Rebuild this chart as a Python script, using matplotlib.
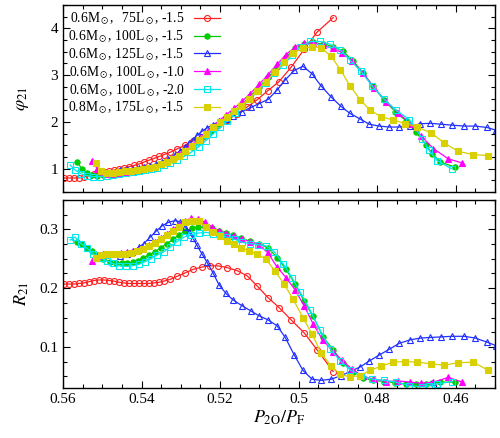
import matplotlib
matplotlib.use("Agg")
import matplotlib.pyplot as plt
from matplotlib.ticker import MultipleLocator

plt.rcParams['font.family'] = ['Liberation Serif', 'DejaVu Serif']
plt.rcParams['mathtext.fontset'] = 'stix'
plt.rcParams['font.size'] = 11

labels = [r"0.6M$_\odot$, $\enspace$75L$_\odot$, -1.5",
          r"0.6M$_\odot$, 100L$_\odot$, -1.5",
          r"0.6M$_\odot$, 125L$_\odot$, -1.5",
          r"0.6M$_\odot$, 100L$_\odot$, -1.0",
          r"0.6M$_\odot$, 100L$_\odot$, -2.0",
          r"0.8M$_\odot$, 175L$_\odot$, -1.5"]

# 0.6 Msun, 75 Lsun, -1.5
x_red = [0.5597, 0.5585, 0.5572, 0.5559, 0.5546, 0.5534, 0.5521, 0.5508, 0.5496, 0.5483,
         0.5470, 0.5457, 0.5445, 0.5432, 0.5419, 0.5406, 0.5394, 0.5381, 0.5368, 0.5355,
         0.5343, 0.5327, 0.5310, 0.5289, 0.5269, 0.5246, 0.5225, 0.5205, 0.5182, 0.5157,
         0.5131, 0.5106, 0.5078, 0.5050, 0.5019, 0.4986, 0.4953, 0.4912]
phi_red = [0.80, 0.80, 0.80, 0.80, 0.82, 0.85, 0.88, 0.91, 0.93, 0.95,
           0.97, 0.99, 1.01, 1.04, 1.07, 1.10, 1.14, 1.18, 1.22, 1.26,
           1.30, 1.35, 1.42, 1.50, 1.59, 1.68, 1.80, 1.93, 2.04, 2.17,
           2.32, 2.47, 2.67, 2.86, 3.17, 3.55, 3.92, 4.23]
R_red = [0.207, 0.207, 0.207, 0.208, 0.209, 0.211, 0.213, 0.214, 0.214, 0.213,
         0.212, 0.210, 0.209, 0.208, 0.208, 0.208, 0.208, 0.208, 0.209, 0.210,
         0.212, 0.215, 0.220, 0.226, 0.232, 0.236, 0.238, 0.238, 0.235, 0.230,
         0.221, 0.204, 0.184, 0.167, 0.146, 0.124, 0.095, 0.058]

# 0.6 Msun, 100 Lsun, -1.5
x_green = [0.5564, 0.5552, 0.5539, 0.5526, 0.5513, 0.5498, 0.5480, 0.5465, 0.5450, 0.5437,
           0.5422, 0.5409, 0.5396, 0.5381, 0.5366, 0.5350, 0.5335, 0.5320, 0.5304, 0.5289,
           0.5271, 0.5256, 0.5238, 0.5220, 0.5203, 0.5185, 0.5167, 0.5146, 0.5124, 0.5101,
           0.5078, 0.5055, 0.5032, 0.5009, 0.4986, 0.4963, 0.4938, 0.4912, 0.4887, 0.4861,
           0.4836, 0.4810, 0.4782, 0.4754, 0.4726, 0.4701, 0.4675, 0.4660, 0.4639, 0.4601]
phi_green = [1.15, 0.99, 0.90, 0.86, 0.85, 0.86, 0.87, 0.89, 0.91, 0.92,
             0.94, 0.96, 0.98, 1.01, 1.04, 1.08, 1.13, 1.19, 1.26, 1.35,
             1.46, 1.56, 1.69, 1.82, 1.95, 2.08, 2.21, 2.37, 2.54, 2.74,
             2.95, 3.17, 3.39, 3.57, 3.67, 3.70, 3.66, 3.61, 3.51, 3.30,
             3.05, 2.76, 2.46, 2.22, 2.02, 1.78, 1.50, 1.32, 1.14, 1.03]
R_green = [0.278, 0.276, 0.269, 0.263, 0.256, 0.249, 0.245, 0.242, 0.242, 0.242,
           0.244, 0.247, 0.252, 0.256, 0.262, 0.269, 0.276, 0.283, 0.291, 0.297,
           0.302, 0.304, 0.304, 0.302, 0.298, 0.294, 0.290, 0.285, 0.280, 0.275,
           0.269, 0.252, 0.232, 0.207, 0.178, 0.152, 0.117, 0.095, 0.073, 0.058,
           0.047, 0.043, 0.041, 0.039, 0.037, 0.036, 0.037, 0.038, 0.040, 0.040]

# 0.6 Msun, 125 Lsun, -1.5
x_blue = [0.5455, 0.5437, 0.5422, 0.5406, 0.5394, 0.5378, 0.5363, 0.5348, 0.5332, 0.5315,
          0.5302, 0.5289, 0.5279, 0.5269, 0.5259, 0.5246, 0.5233, 0.5218, 0.5203, 0.5185,
          0.5167, 0.5144, 0.5121, 0.5101, 0.5078, 0.5055, 0.5034, 0.5011, 0.4989, 0.4966,
          0.4943, 0.4917, 0.4892, 0.4869, 0.4843, 0.4820, 0.4795, 0.4769, 0.4744, 0.4716,
          0.4690, 0.4665, 0.4637, 0.4609, 0.4578, 0.4550, 0.4520, 0.4497]
phi_blue = [0.98, 0.99, 1.00, 1.01, 1.03, 1.06, 1.10, 1.15, 1.21, 1.30,
            1.38, 1.46, 1.54, 1.62, 1.71, 1.80, 1.87, 1.94, 2.01, 2.07,
            2.13, 2.22, 2.31, 2.39, 2.48, 2.68, 2.90, 3.10, 3.19, 3.03,
            2.77, 2.53, 2.33, 2.18, 2.06, 1.95, 1.91, 1.89, 1.89, 1.91,
            1.96, 1.97, 1.95, 1.93, 1.91, 1.91, 1.88, 1.82]
R_blue = [0.255, 0.258, 0.263, 0.270, 0.276, 0.287, 0.297, 0.306, 0.312, 0.315,
          0.313, 0.305, 0.296, 0.285, 0.273, 0.258, 0.244, 0.226, 0.206, 0.191,
          0.180, 0.170, 0.161, 0.153, 0.146, 0.136, 0.116, 0.086, 0.060, 0.045,
          0.043, 0.045, 0.051, 0.058, 0.066, 0.076, 0.086, 0.096, 0.106, 0.112,
          0.115, 0.116, 0.117, 0.118, 0.118, 0.115, 0.108, 0.102]

# 0.6 Msun, 100 Lsun, -1.0
x_mag = [0.5526, 0.5513, 0.5498, 0.5483, 0.5468, 0.5452, 0.5437, 0.5424, 0.5409, 0.5396,
         0.5381, 0.5366, 0.5350, 0.5335, 0.5320, 0.5304, 0.5289, 0.5274, 0.5256, 0.5238,
         0.5220, 0.5203, 0.5185, 0.5164, 0.5144, 0.5124, 0.5101, 0.5078, 0.5055, 0.5032,
         0.5009, 0.4986, 0.4963, 0.4938, 0.4912, 0.4889, 0.4864, 0.4836, 0.4808, 0.4777,
         0.4746, 0.4716, 0.4688, 0.4657, 0.4619, 0.4583]
phi_mag = [1.17, 1.00, 0.90, 0.88, 0.89, 0.91, 0.93, 0.95, 0.97, 0.99,
           1.02, 1.06, 1.10, 1.16, 1.23, 1.31, 1.40, 1.50, 1.62, 1.76,
           1.89, 2.02, 2.15, 2.29, 2.44, 2.60, 2.80, 3.01, 3.23, 3.44,
           3.60, 3.68, 3.69, 3.64, 3.57, 3.48, 3.30, 3.04, 2.73, 2.43,
           2.20, 1.96, 1.70, 1.43, 1.21, 1.12]
R_mag = [0.246, 0.254, 0.258, 0.259, 0.259, 0.260, 0.261, 0.262, 0.265, 0.268,
         0.273, 0.279, 0.286, 0.293, 0.300, 0.308, 0.315, 0.319, 0.318, 0.312,
         0.304, 0.298, 0.293, 0.289, 0.284, 0.279, 0.274, 0.260, 0.236, 0.218,
         0.197, 0.170, 0.139, 0.111, 0.092, 0.077, 0.062, 0.050, 0.045, 0.041,
         0.042, 0.040, 0.038, 0.040, 0.048, 0.040]

# 0.6 Msun, 100 Lsun, -2.0
x_cyan = [0.5582, 0.5569, 0.5554, 0.5539, 0.5524, 0.5506, 0.5488, 0.5473, 0.5457, 0.5439,
          0.5422, 0.5406, 0.5391, 0.5376, 0.5361, 0.5343, 0.5327, 0.5310, 0.5292, 0.5274,
          0.5254, 0.5236, 0.5218, 0.5200, 0.5182, 0.5162, 0.5144, 0.5124, 0.5103, 0.5083,
          0.5062, 0.5039, 0.5017, 0.4996, 0.4971, 0.4945, 0.4920, 0.4894, 0.4869, 0.4841,
          0.4813, 0.4782, 0.4752, 0.4718, 0.4685, 0.4668, 0.4647, 0.4609]
phi_cyan = [1.08, 0.97, 0.89, 0.85, 0.83, 0.83, 0.84, 0.86, 0.88, 0.90,
            0.92, 0.94, 0.97, 0.99, 1.02, 1.07, 1.12, 1.18, 1.26, 1.35,
            1.47, 1.60, 1.74, 1.88, 2.02, 2.18, 2.33, 2.49, 2.66, 2.84,
            3.04, 3.22, 3.43, 3.60, 3.72, 3.72, 3.66, 3.54, 3.32, 3.08,
            2.77, 2.48, 2.25, 2.05, 1.64, 1.39, 1.17, 0.99]
R_cyan = [0.282, 0.287, 0.276, 0.268, 0.259, 0.252, 0.246, 0.242, 0.238, 0.237,
          0.238, 0.241, 0.245, 0.250, 0.256, 0.262, 0.270, 0.279, 0.287, 0.291,
          0.294, 0.295, 0.293, 0.290, 0.287, 0.283, 0.278, 0.276, 0.274, 0.272,
          0.262, 0.241, 0.218, 0.193, 0.163, 0.128, 0.097, 0.076, 0.061, 0.051,
          0.045, 0.043, 0.040, 0.034, 0.032, 0.034, 0.037, 0.041]

# 0.8 Msun, 175 Lsun, -1.5
x_yel = [0.5516, 0.5503, 0.5488, 0.5473, 0.5457, 0.5442, 0.5427, 0.5411, 0.5396, 0.5381,
         0.5366, 0.5350, 0.5335, 0.5320, 0.5304, 0.5289, 0.5271, 0.5254, 0.5236, 0.5218,
         0.5200, 0.5182, 0.5164, 0.5146, 0.5126, 0.5106, 0.5083, 0.5060, 0.5037, 0.5014,
         0.4989, 0.4966, 0.4943, 0.4917, 0.4894, 0.4869, 0.4843, 0.4818, 0.4790, 0.4759,
         0.4729, 0.4698, 0.4662, 0.4629, 0.4594, 0.4555, 0.4517]
phi_yel = [1.12, 0.94, 0.90, 0.91, 0.93, 0.94, 0.96, 0.97, 0.99, 1.015,
           1.04, 1.09, 1.14, 1.20, 1.28, 1.38, 1.49, 1.62, 1.75, 1.88,
           2.00, 2.11, 2.23, 2.35, 2.50, 2.67, 2.86, 3.07, 3.28, 3.48,
           3.57, 3.61, 3.585, 3.40, 3.12, 2.77, 2.47, 2.25, 2.11, 2.04,
           1.965, 1.89, 1.76, 1.55, 1.37, 1.30, 1.28]
R_yel = [0.252, 0.256, 0.259, 0.259, 0.259, 0.259, 0.260, 0.263, 0.267, 0.272,
         0.277, 0.284, 0.290, 0.297, 0.305, 0.312, 0.315, 0.314, 0.304, 0.296,
         0.288, 0.280, 0.275, 0.269, 0.263, 0.258, 0.249, 0.229, 0.207, 0.181,
         0.150, 0.122, 0.090, 0.067, 0.053, 0.049, 0.051, 0.060, 0.067, 0.074,
         0.075, 0.074, 0.071, 0.069, 0.073, 0.074, 0.060]

series = [
    (x_red, phi_red, R_red, dict(color='#ff2020', marker='o', mfc='none', ms=4.3)),
    (x_green, phi_green, R_green, dict(color='#00cc00', marker='o', mfc='#00cc00', ms=3.8)),
    (x_blue, phi_blue, R_blue, dict(color='#2030ff', marker='^', mfc='none', ms=4.3)),
    (x_mag, phi_mag, R_mag, dict(color='#ff00ff', marker='^', mfc='#ff00ff', ms=4.0)),
    (x_cyan, phi_cyan, R_cyan, dict(color='#00e8ee', marker='s', mfc='none', ms=4.6)),
    (x_yel, phi_yel, R_yel, dict(color='#d8d000', marker='s', mfc='#d8d000', ms=4.6)),
]

fig = plt.figure(figsize=(5.0, 4.38), dpi=100)
ax1 = fig.add_axes([0.126, 0.5616, 0.864, 0.427])
ax2 = fig.add_axes([0.126, 0.1142, 0.864, 0.429])

for (x, p, r, st), lab in zip(series, labels):
    ax1.plot(x, p, lw=0.9, mew=0.8, label=lab, **st)
    ax2.plot(x, r, lw=0.9, mew=0.8, **st)

for ax in (ax1, ax2):
    ax.set_xlim(0.56, 0.45)
    ax.xaxis.set_major_locator(MultipleLocator(0.02))
    ax.xaxis.set_minor_locator(MultipleLocator(0.005))
    ax.tick_params(which='both', direction='in', top=True, right=True, width=0.8)
    ax.tick_params(which='major', length=5)
    ax.tick_params(which='minor', length=3)
    for s in ax.spines.values():
        s.set_linewidth(1.0)

ax1.set_ylim(0.5, 4.5)
ax1.yaxis.set_major_locator(MultipleLocator(1))
ax1.yaxis.set_minor_locator(MultipleLocator(0.25))
ax1.tick_params(labelbottom=False)
ax1.set_ylabel(r"$\varphi_{21}$", fontsize=13, labelpad=14)

ax2.set_ylim(0.03, 0.35)
ax2.yaxis.set_major_locator(MultipleLocator(0.1))
ax2.yaxis.set_minor_locator(MultipleLocator(0.025))
ax2.set_yticks([0.1, 0.2, 0.3])
ax2.set_yticklabels(['0.1', '0.2', '0.3'])
ax2.set_xticks([0.56, 0.54, 0.52, 0.50, 0.48, 0.46])
ax2.set_xticklabels(['0.56', '0.54', '0.52', '0.5', '0.48', '0.46'])
ax2.set_ylabel(r"$R_{21}$", fontsize=13, labelpad=6)
ax2.set_xlabel(r"$P_{2\mathrm{O}}/P_{\mathrm{F}}$", fontsize=13, labelpad=2)

ax1.legend(loc='upper left', frameon=False, markerfirst=False, fontsize=9.8,
           handlelength=1.9, handletextpad=0.7, labelspacing=0.08,
           borderaxespad=0.1, borderpad=0.3)

fig.savefig("out.png", dpi=100)
